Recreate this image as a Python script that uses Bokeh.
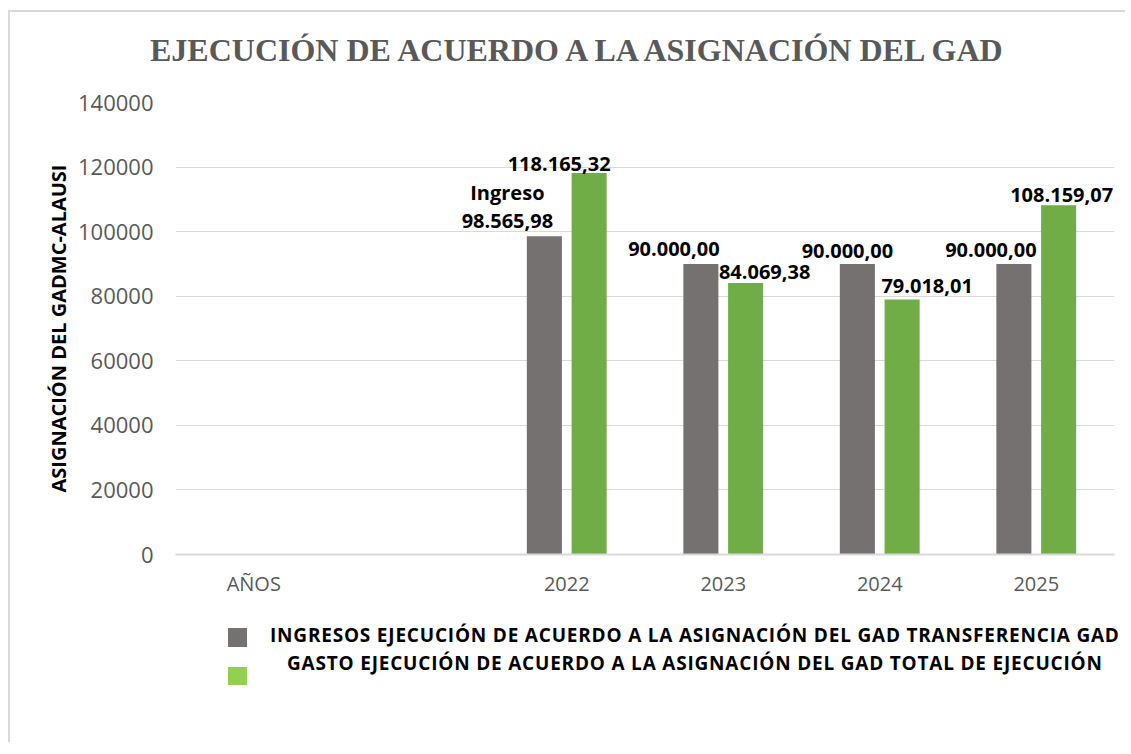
from bokeh.plotting import figure
from bokeh.layouts import column
from bokeh.models import (ColumnDataSource, FactorRange, FixedTicker,
                          NumeralTickFormatter, Div)
from bokeh.transform import dodge
from bokeh.core.properties import value
from bokeh.embed import file_html
from bokeh.resources import INLINE

# ---------------- data ----------------
categories = ["AÑOS", " ", "2022", "2023", "2024", "2025"]
years = ["2022", "2023", "2024", "2025"]
ingresos = [98565.98, 90000.00, 90000.00, 90000.00]
gastos = [118165.32, 84069.38, 79018.01, 108159.07]
ingresos_labels = ["Ingreso\n98.565,98", "90.000,00", "90.000,00", "90.000,00"]
gastos_labels = ["118.165,32", "84.069,38", "79.018,01", "108.159,07"]
y_ticks = [0, 20000, 40000, 60000, 80000, 100000, 120000, 140000]

title_text = "EJECUCIÓN DE ACUERDO A LA ASIGNACIÓN DEL GAD"
y_label = "ASIGNACIÓN DEL GADMC-ALAUSI"
legend_ingresos = "INGRESOS EJECUCIÓN DE ACUERDO A LA ASIGNACIÓN DEL GAD TRANSFERENCIA GAD"
legend_gastos = "GASTO EJECUCIÓN DE ACUERDO A LA ASIGNACIÓN DEL GAD TOTAL DE EJECUCIÓN"

# label placement (pixels, style only)
ing_dx = [-37, -27, -10, -23]
ing_dy = [-30, -15, -13, -14]
gas_dx = [-30, 19, 25, 3]
gas_dy = [-9, -11, -13, -10]

GRAY = "#767171"
GREEN = "#70AD47"
GREEN_LEG = "#92D050"
TICK = "#595959"
GRID = "#D9D9D9"
FONT = "Open Sans"
W = 1115

src = ColumnDataSource(dict(
    x=years, ing=ingresos, gas=gastos,
    ing_lab=ingresos_labels, gas_lab=gastos_labels,
    ing_dx=ing_dx, ing_dy=ing_dy, gas_dx=gas_dx, gas_dy=gas_dy,
))

# ---------------- title ----------------
title_div = Div(
    width=W, height=60,
    text=(f'<div style="position:relative;width:{W}px;height:60px;">'
          f'<div style="position:absolute;left:140px;top:22px;white-space:nowrap;'
          f'font-family:\'Liberation Serif\';font-weight:bold;font-size:32px;'
          f'line-height:32px;color:{TICK};">{title_text}</div></div>'),
    styles={"margin": "0", "padding": "0"},
)

# ---------------- chart ----------------
p = figure(
    x_range=FactorRange(factors=categories, range_padding=0),
    y_range=(0, 140000),
    width=W, height=540,
    output_backend="svg", toolbar_location=None,
    min_border_left=165, min_border_right=11,
    min_border_top=30, min_border_bottom=58,
)

p.vbar(x=dodge("x", -0.143, range=p.x_range), top="ing", width=0.224,
       source=src, fill_color=GRAY, line_color=None)
p.vbar(x=dodge("x", 0.143, range=p.x_range), top="gas", width=0.224,
       source=src, fill_color=GREEN, line_color=None)

p.text(x=dodge("x", -0.143, range=p.x_range), y="ing", text="ing_lab",
       x_offset="ing_dx", y_offset="ing_dy", source=src,
       text_align="center", text_baseline="middle", text_line_height=1.05,
       text_font=value(FONT), text_font_style="bold", text_font_size="20px",
       text_color="black")
p.text(x=dodge("x", 0.143, range=p.x_range), y="gas", text="gas_lab",
       x_offset="gas_dx", y_offset="gas_dy", source=src,
       text_align="center", text_baseline="middle",
       text_font=value(FONT), text_font_style="bold", text_font_size="20px",
       text_color="black")

p.xgrid.grid_line_color = None
p.ygrid.grid_line_color = GRID
p.ygrid.grid_line_width = 1
p.ygrid.ticker = FixedTicker(ticks=y_ticks)
p.outline_line_color = None

p.yaxis.ticker = FixedTicker(ticks=y_ticks)
p.yaxis.formatter = NumeralTickFormatter(format="0")
p.yaxis.axis_line_color = None
p.yaxis.major_tick_line_color = None
p.yaxis.minor_tick_line_color = None
p.yaxis.major_tick_out = 0
p.yaxis.major_label_standoff = 22
p.yaxis.major_label_text_font = FONT
p.yaxis.major_label_text_font_size = "22px"
p.yaxis.major_label_text_color = TICK
p.yaxis.axis_label = y_label
p.yaxis.axis_label_standoff = 3
p.yaxis.axis_label_text_font = FONT
p.yaxis.axis_label_text_font_size = "20px"
p.yaxis.axis_label_text_font_style = "bold"
p.yaxis.axis_label_text_color = "black"

p.xaxis.axis_line_color = GRID
p.xaxis.axis_line_width = 2
p.xaxis.major_tick_line_color = None
p.xaxis.minor_tick_line_color = None
p.xaxis.major_tick_out = 0
p.xaxis.major_label_standoff = 15
p.xaxis.major_label_text_font = FONT
p.xaxis.major_label_text_font_size = "20px"
p.xaxis.major_label_text_color = TICK

# ---------------- legend ----------------
txt = ("position:absolute;white-space:nowrap;font-family:'Open Sans';font-weight:bold;"
       "font-size:19px;line-height:19px;letter-spacing:0.8px;color:black;")
legend_div = Div(
    width=W, height=130,
    text=(f'<div style="position:relative;width:{W}px;height:130px;">'
          f'<div style="position:absolute;left:218px;top:16px;width:19px;height:19px;background:{GRAY};"></div>'
          f'<div style="{txt}left:260px;top:14px;">{legend_ingresos}</div>'
          f'<div style="position:absolute;left:218px;top:55px;width:19px;height:18px;background:{GREEN_LEG};"></div>'
          f'<div style="{txt}left:277px;top:42px;">{legend_gastos}</div>'
          f'</div>'),
    styles={"margin": "0", "padding": "0"},
)

layout = column(title_div, p, legend_div, spacing=0)
layout.styles = {"border-left": "2px solid #D9D9D9", "border-top": "2px solid #D9D9D9",
                 "margin-left": "8px", "margin-top": "10px"}

open("out.html", "w").write(file_html(layout, INLINE))
